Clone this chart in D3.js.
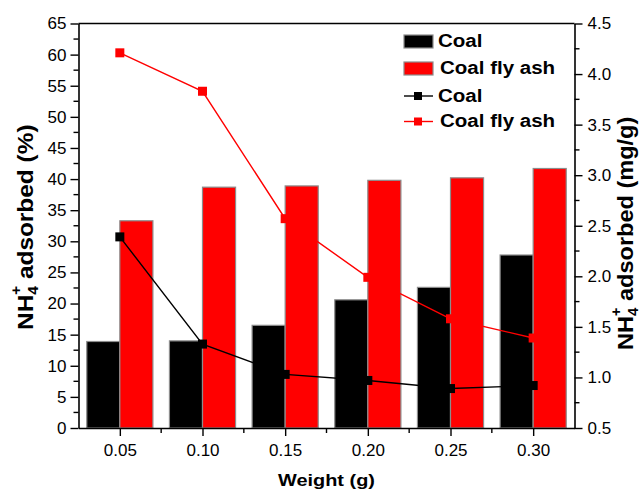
<!DOCTYPE html>
<html>
<head>
<meta charset="utf-8">
<script src="https://cdn.jsdelivr.net/npm/d3@7"></script>
<style>
  html, body { margin: 0; padding: 0; background: #fff; }
  svg { display: block; font-family: "Liberation Sans", Arial, sans-serif; }
</style>
</head>
<body>
<svg id="chart" width="641" height="493"></svg>
<script>
// Sorbent weight (g)
const weights = [0.05, 0.10, 0.15, 0.20, 0.25, 0.30];
// NH4+ adsorbed (%) — bars, left axis
const coalPct = [13.9, 14.0, 16.5, 20.6, 22.6, 27.8];
const flyAshPct = [33.3, 38.7, 38.9, 39.8, 40.2, 41.7];
// NH4+ adsorbed (mg/g) — lines, right axis
const coalMg = [2.39, 1.33, 1.03, 0.97, 0.89, 0.92];
const flyAshMg = [4.21, 3.83, 2.57, 1.99, 1.58, 1.39];

const xTicks = [0.05, 0.10, 0.15, 0.20, 0.25, 0.30];
const leftTicks = d3.range(0, 66, 5);
const rightTicks = [0.5, 1.0, 1.5, 2.0, 2.5, 3.0, 3.5, 4.0, 4.5];

const svg = d3.select("#chart");
const L = 78.5, R = 574.5, T = 23.5, B = 428;

const x = d3.scaleLinear().domain([0.025, 0.325]).range([L, R]);
const yL = d3.scaleLinear().domain([0, 65]).range([B, T]);
const yR = d3.scaleLinear().domain([0.5, 4.5]).range([B, T]);
const barW = 0.02;

// Bars
const bars = svg.append("g");
bars.selectAll("rect.coal").data(weights).join("rect")
  .attr("x", (d) => x(d - barW))
  .attr("y", (d, i) => yL(coalPct[i]))
  .attr("width", (d) => x(d) - x(d - barW))
  .attr("height", (d, i) => B - yL(coalPct[i]))
  .attr("fill", "#000").attr("stroke", "#8c8c8c").attr("stroke-width", 1.2);
bars.selectAll("rect.ash").data(weights).join("rect")
  .attr("x", (d) => x(d))
  .attr("y", (d, i) => yL(flyAshPct[i]))
  .attr("width", (d) => x(d + barW) - x(d))
  .attr("height", (d, i) => B - yL(flyAshPct[i]))
  .attr("fill", "#ff0000").attr("stroke", "#8c8c8c").attr("stroke-width", 1.2);

// Lines with square markers
function series(vals, color) {
  const line = d3.line().x((d, i) => x(weights[i])).y((d) => yR(d));
  svg.append("path").datum(vals).attr("d", line)
    .attr("fill", "none").attr("stroke", color).attr("stroke-width", 1.4);
  svg.append("g").selectAll("rect").data(vals).join("rect")
    .attr("x", (d, i) => x(weights[i]) - 4.5)
    .attr("y", (d) => yR(d) - 4.5)
    .attr("width", 9).attr("height", 9)
    .attr("fill", color);
}
series(coalMg, "#000");
series(flyAshMg, "#ff0000");

// Axes
const tickFont = 17;
function styleAxis(g) {
  g.selectAll("path.domain").attr("stroke", "#000").attr("stroke-width", 1.6);
  g.selectAll("line").attr("stroke", "#000").attr("stroke-width", 1.4);
  g.selectAll("text").attr("font-size", tickFont).attr("fill", "#000")
    .attr("font-family", "Liberation Sans, Arial, sans-serif");
}

// bottom
const gx = svg.append("g").attr("transform", `translate(0,${B})`)
  .call(d3.axisBottom(x).tickValues(xTicks).tickFormat(d3.format(".2f"))
    .tickSizeInner(8).tickSizeOuter(0).tickPadding(8));
styleAxis(gx);
gx.append("g").selectAll("line").data(d3.range(0.075, 0.30, 0.05)).join("line")
  .attr("x1", (d) => x(d)).attr("x2", (d) => x(d)).attr("y1", 0).attr("y2", 5)
  .attr("stroke", "#000").attr("stroke-width", 1.4);

// left
const gl = svg.append("g").attr("transform", `translate(${L},0)`)
  .call(d3.axisLeft(yL).tickValues(leftTicks).tickFormat(d3.format("d"))
    .tickSizeInner(8).tickSizeOuter(0).tickPadding(4));
styleAxis(gl);
gl.append("g").selectAll("line").data(d3.range(2.5, 65, 5)).join("line")
  .attr("x1", -5).attr("x2", 0).attr("y1", (d) => yL(d)).attr("y2", (d) => yL(d))
  .attr("stroke", "#000").attr("stroke-width", 1.4);

// right
const gr = svg.append("g").attr("transform", `translate(${R},0)`)
  .call(d3.axisRight(yR).tickValues(rightTicks).tickFormat(d3.format(".1f"))
    .tickSizeInner(8).tickSizeOuter(0).tickPadding(5));
styleAxis(gr);
gr.append("g").selectAll("line").data(d3.range(0.75, 4.5, 0.5)).join("line")
  .attr("x1", 0).attr("x2", 5).attr("y1", (d) => yR(d)).attr("y2", (d) => yR(d))
  .attr("stroke", "#000").attr("stroke-width", 1.4);

// top frame
svg.append("line").attr("x1", L).attr("x2", R).attr("y1", T).attr("y2", T)
  .attr("stroke", "#000").attr("stroke-width", 1.6);

// Axis titles
svg.append("text")
  .attr("transform", `translate(${(L + R) / 2},486) scale(1.17,1)`)
  .attr("text-anchor", "middle").attr("font-weight", "bold").attr("font-size", 17)
  .text("Weight (g)");

// Rotated titles start at the bottom (N) and run upward
function nhTitle(tx, ty, stretch, unit) {
  const t = svg.append("text")
    .attr("transform", `translate(${tx},${ty}) rotate(-90) scale(${stretch},1)`)
    .attr("text-anchor", "start").attr("font-weight", "bold").attr("font-size", 22);
  t.append("tspan").text("NH");
  t.append("tspan").attr("font-size", 14).attr("dy", 5).text("4");
  t.append("tspan").attr("font-size", 14).attr("dx", -8).attr("dy", -17).text("+");
  t.append("tspan").attr("dy", 12).text(" adsorbed " + unit);
}
nhTitle(33, 330, 1.11, "(%)");
nhTitle(633, 350, 1.07, "(mg/g)");

// Legend
const leg = svg.append("g").attr("font-weight", "bold").attr("font-size", 19);
function legText(tx, ty, s) {
  leg.append("text").attr("transform", `translate(${tx},${ty}) scale(1.08,1)`).text(s);
}
leg.append("rect").attr("x", 404).attr("y", 35).attr("width", 29).attr("height", 13)
  .attr("fill", "#000").attr("stroke", "#8c8c8c").attr("stroke-width", 1.2);
legText(438, 47, "Coal");
leg.append("rect").attr("x", 404).attr("y", 62).attr("width", 29).attr("height", 13)
  .attr("fill", "#ff0000").attr("stroke", "#8c8c8c").attr("stroke-width", 1.2);
legText(440, 74, "Coal fly ash");
[["Coal", "#000", 96, 438], ["Coal fly ash", "#ff0000", 121.5, 440]].forEach(([lbl, c, yy, tx]) => {
  leg.append("line").attr("x1", 404).attr("x2", 433).attr("y1", yy).attr("y2", yy)
    .attr("stroke", c).attr("stroke-width", 1.4);
  leg.append("rect").attr("x", 414).attr("y", yy - 4).attr("width", 8).attr("height", 8).attr("fill", c);
  legText(tx, yy + 5.5, lbl);
});
</script>
</body>
</html>
